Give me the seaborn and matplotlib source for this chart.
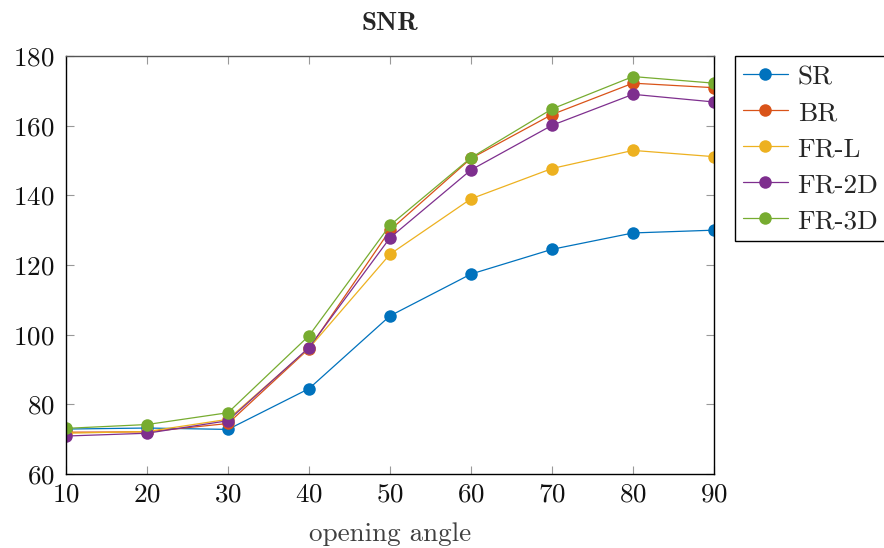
import matplotlib
matplotlib.use("Agg")
import matplotlib.pyplot as plt
import seaborn as sns
import pandas as pd

angles = [10, 20, 30, 40, 50, 60, 70, 80, 90]
sr   = [72.9, 73.2, 72.8, 84.5, 105.4, 117.4, 124.5, 129.2, 130.0]
br   = [72.0, 72.1, 74.5, 96.0, 130.0, 150.6, 163.2, 172.2, 170.9]
frl  = [71.7, 72.2, 75.7, 96.1, 123.1, 139.0, 147.7, 152.9, 151.1]
fr2d = [70.9, 71.7, 75.3, 96.3, 127.8, 147.3, 160.1, 169.0, 166.8]
fr3d = [73.1, 74.2, 77.6, 99.7, 131.4, 150.8, 164.8, 174.1, 172.2]
series_names = ["SR", "BR", "FR-L", "FR-2D", "FR-3D"]
colors = ["#0072BD", "#D95319", "#EDB120", "#7E2F8E", "#77AC30"]

rows = []
for name, vals in zip(series_names, [sr, br, frl, fr2d, fr3d]):
    for a, v in zip(angles, vals):
        rows.append({"angle": a, "snr": v, "method": name})
df = pd.DataFrame(rows)

sns.set_style("ticks")
plt.rcParams["font.family"] = ["cmr10", "DejaVu Serif"]
plt.rcParams["mathtext.fontset"] = "cm"
plt.rcParams["axes.formatter.use_mathtext"] = True

fig = plt.figure(figsize=(8.84, 5.48), dpi=100)
ax = fig.add_axes([66/884, 1-474/548, (714-66)/884, (474-56)/548])

sns.lineplot(data=df, x="angle", y="snr", hue="method", hue_order=series_names,
             palette=colors, marker="o", markersize=9, markeredgewidth=0,
             linewidth=0.9, ax=ax, legend=False)

ax.set_xlim(10, 90)
ax.set_ylim(60, 180)
ax.set_xticks(angles)
ax.set_yticks(range(60, 181, 20))
ax.tick_params(direction="in", length=6, width=0.8, color="#999999",
               top=True, right=True, labelsize=19.5, labelcolor="#111111")
ax.tick_params(axis="x", pad=6)
ax.tick_params(axis="y", pad=8)
for s in ax.spines.values():
    s.set_color("black")
    s.set_linewidth(1.0)
ax.spines["top"].set_color("#555555")
ax.set_xlabel("opening angle", fontsize=19.5, color="#404040", labelpad=12)
ax.set_ylabel("")
ax.set_title("SNR", fontsize=19.5, fontfamily="cmb10", pad=19)

handles = [plt.Line2D([], [], color=c, marker="o", markersize=9,
                      markeredgewidth=0, linewidth=0.9) for c in colors]
leg = ax.legend(handles, series_names, loc="upper left",
                bbox_to_anchor=(1.032, 1.0), borderaxespad=0,
                fontsize=19.5, frameon=True, fancybox=False, framealpha=1,
                edgecolor="black", handlelength=1.65, labelspacing=0.38,
                borderpad=0.3, handletextpad=0.37, handleheight=0.9)
leg.get_frame().set_linewidth(1.0)

fig.savefig("out.png", dpi=100)
